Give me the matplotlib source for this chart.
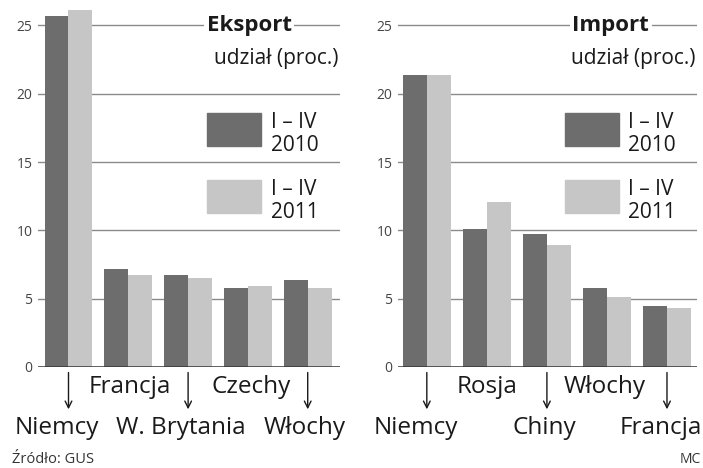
import numpy as np
import matplotlib
matplotlib.use("Agg")
import matplotlib.pyplot as plt

plt.rcParams['font.family'] = ['Open Sans', 'DejaVu Sans']

# udział w eksporcie / imporcie, I-IV 2010 i 2011 (proc.)
export_countries = ['Niemcy', 'Francja', 'W. Brytania', 'Czechy', 'Włochy']
export_2010 = [25.7, 7.2, 6.7, 5.8, 6.4]
export_2011 = [26.1, 6.7, 6.5, 5.9, 5.8]

import_countries = ['Niemcy', 'Rosja', 'Chiny', 'Włochy', 'Francja']
import_2010 = [21.4, 10.1, 9.7, 5.8, 4.5]
import_2011 = [21.4, 12.1, 8.9, 5.1, 4.3]

yticks = [0, 5, 10, 15, 20, 25]
legend_labels = ['I – IV\n2010', 'I – IV\n2011']

DARK = '#6d6d6d'
LIGHT = '#c6c6c6'
W, H = 703, 468

fig = plt.figure(figsize=(W / 100, H / 100), dpi=100)


def px_axes(x0, y0, x1, y1):
    # axes placed by pixel box (top-left origin)
    return fig.add_axes([x0 / W, 1 - y1 / H, (x1 - x0) / W, (y1 - y0) / H])


def panel(ax, title, cats, v10, v11, xlim, label_dx):
    x = np.arange(len(cats))
    bw = 0.4
    for y in yticks[1:]:
        ax.axhline(y, color='#8a8a8a', lw=1.0, zorder=1)
    ax.bar(x - bw / 2, v10, bw, color=DARK, zorder=2)
    ax.bar(x + bw / 2, v11, bw, color=LIGHT, zorder=2)
    ax.axhline(0, color='#333333', lw=1.8, zorder=3)
    ax.set_xlim(*xlim)
    ax.set_ylim(0, 26.5)
    ax.set_xticks([])
    ax.set_yticks(yticks)
    ax.set_yticklabels([str(t) for t in yticks], color='#444444', fontsize=10)
    ax.tick_params(axis='y', length=0, pad=4)
    for s in ax.spines.values():
        s.set_visible(False)
    ax.patch.set_alpha(0)

    # title over the top gridline, with a white gap behind it
    ax.text(0.84, 25, title, transform=ax.get_yaxis_transform(), ha='right',
            va='center', fontsize=16, fontweight='bold', color='#1a1a1a',
            bbox=dict(facecolor='white', edgecolor='none', pad=2), zorder=4)
    ax.text(0.995, 22.6, 'udział (proc.)', transform=ax.get_yaxis_transform(),
            ha='right', va='center', fontsize=15, color='#1a1a1a', zorder=4)

    # legend boxes
    for i, (lab, col) in enumerate(zip(legend_labels, [DARK, LIGHT])):
        yc = 17.4 - i * 4.9
        ax.add_patch(plt.Rectangle((0.56, yc - 1.2), 0.18, 2.4, color=col,
                                   transform=ax.get_yaxis_transform(),
                                   zorder=4, clip_on=False))
        ax.text(0.77, yc - 0.35, lab, transform=ax.get_yaxis_transform(),
                ha='left', va='center', fontsize=15, color='#1a1a1a',
                linespacing=1.1, zorder=4)

    # category labels: odd ones under the axis, even ones lower with arrows
    for i, (c, dx) in enumerate(zip(cats, label_dx)):
        if i % 2 == 1:
            ax.text(i + dx, -1.9, c, ha='center', va='baseline', fontsize=17.5,
                    color='#1a1a1a', clip_on=False)
        else:
            ax.annotate('', xy=(i, -3.3), xytext=(i, -0.2),
                        arrowprops=dict(arrowstyle='->', color='#1a1a1a',
                                        lw=1.0, mutation_scale=12),
                        annotation_clip=False)
            ax.text(i + dx, -4.9, c, ha='center', va='baseline', fontsize=17.5,
                    color='#1a1a1a', clip_on=False)


ax1 = px_axes(38, 5, 340, 367)
panel(ax1, 'Eksport', export_countries, export_2010, export_2011,
      (-0.51, 4.54), [-0.2, 0.02, -0.12, 0.06, -0.05])

ax2 = px_axes(398, 5, 697, 367)
panel(ax2, 'Import', import_countries, import_2010, import_2011,
      (-0.48, 4.5), [-0.18, 0.0, -0.05, -0.04, -0.1])

fig.text(12 / W, 1 - 463 / H, 'Źródło: GUS', ha='left', va='baseline',
         fontsize=10.5, color='#333333')
fig.text(701 / W, 1 - 463 / H, 'MC', ha='right', va='baseline',
         fontsize=10, color='#333333')

fig.savefig('out.png', dpi=100, facecolor='white')
